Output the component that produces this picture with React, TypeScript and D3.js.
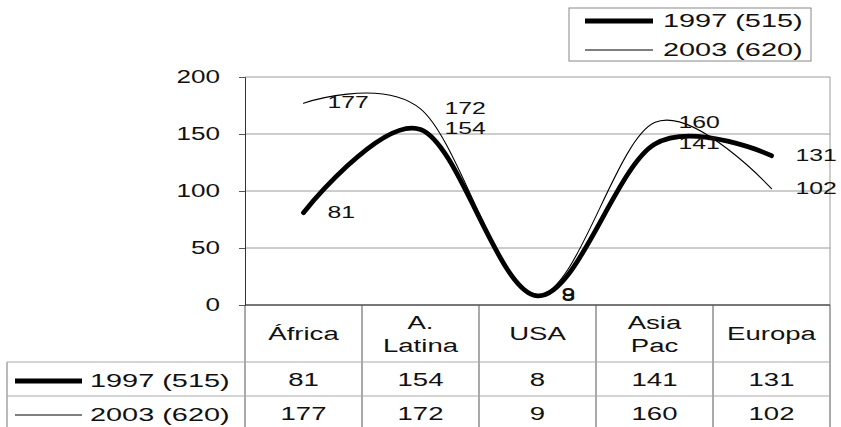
import * as d3 from 'd3';
import { useEffect, useRef } from 'react';

const categories = ['África', 'A. Latina', 'USA', 'Asia Pac', 'Europa'];
const seriesNames = ['1997 (515)', '2003 (620)'];
const values1997 = [81, 154, 8, 141, 131];
const values2003 = [177, 172, 9, 160, 102];
const yTicks = [0, 50, 100, 150, 200];

const FONT = '"Liberation Sans", Arial, sans-serif';
const STRETCH = 1.45;

export default function App() {
    const svgRef = useRef<SVGSVGElement>(null);

    useEffect(() => {
        if (!svgRef.current) return;
        const width = 841;
        const height = 427;
        const plot = { left: 245, right: 830, top: 77, bottom: 305 };

        const svg = d3.select(svgRef.current).attr('width', width).attr('height', height);
        svg.selectAll('*').remove();

        // text with the horizontal stretch seen in the picture
        const txt = (g: any, x: number, y: number, s: string, size: number, anchor = 'start', sx = STRETCH) =>
            g
                .append('text')
                .attr('transform', `translate(${x},${y}) scale(${sx},1)`)
                .attr('text-anchor', anchor)
                .attr('font-family', FONT)
                .attr('font-size', size)
                .attr('fill', '#111')
                .text(s);

        const x = d3.scaleBand<string>().domain(categories).range([plot.left, plot.right]);
        const cx = (c: string) => x(c)! + x.bandwidth() / 2;
        const y = d3.scaleLinear().domain([0, 200]).range([plot.bottom, plot.top]);

        // grid + frame
        const grid = svg.append('g');
        yTicks.forEach((t) => {
            grid.append('line').attr('x1', plot.left).attr('x2', plot.right).attr('y1', y(t)).attr('y2', y(t)).attr('stroke', '#9a9a9a').attr('stroke-width', 1);
        });
        grid.append('line').attr('x1', plot.right).attr('x2', plot.right).attr('y1', plot.top).attr('y2', plot.bottom).attr('stroke', '#9a9a9a');

        // y axis
        const yAxis = svg.append('g').attr('transform', `translate(${plot.left},0)`).call(d3.axisLeft(y).tickValues(yTicks).tickSize(6).tickFormat(() => ''));
        yAxis.select('.domain').attr('stroke', '#333');
        yAxis.selectAll('.tick line').attr('stroke', '#555');
        yTicks.forEach((t) => txt(svg, 220, y(t) + 6, String(t), 18, 'end'));

        // x axis line
        svg.append('line').attr('x1', plot.left).attr('x2', plot.right).attr('y1', plot.bottom).attr('y2', plot.bottom).attr('stroke', '#222');

        // data table
        const rowTop = [362, 396];
        const rowBottom = 430;
        const tbl = svg.append('g');
        const bounds = categories.map((c) => x(c)!).concat([plot.right]);
        bounds.forEach((b) => {
            tbl.append('line').attr('x1', b).attr('x2', b).attr('y1', plot.bottom).attr('y2', rowBottom).attr('stroke', '#555');
        });
        tbl.append('line').attr('x1', 7).attr('x2', 7).attr('y1', rowTop[0]).attr('y2', rowBottom).attr('stroke', '#777');
        rowTop.forEach((r) => {
            tbl.append('line').attr('x1', 7).attr('x2', plot.right).attr('y1', r).attr('y2', r).attr('stroke', '#aaa');
        });

        categories.forEach((c) => {
            const parts = c.split(' ');
            if (parts.length === 1) txt(tbl, cx(c), 340, c, 19, 'middle');
            else parts.forEach((p, i) => txt(tbl, cx(c), 329 + i * 23, p, 19, 'middle'));
        });

        const allSeries = [
            { name: seriesNames[0], values: values1997, width: 4.8 },
            { name: seriesNames[1], values: values2003, width: 1.1 },
        ];

        allSeries.forEach((s, si) => {
            const top = rowTop[si];
            const mid = top + 19;
            tbl.append('line').attr('x1', 15).attr('x2', 82).attr('y1', mid).attr('y2', mid).attr('stroke', '#000').attr('stroke-width', s.width);
            txt(tbl, 90, mid + 6, s.name, 19, 'start', 1.52);
            s.values.forEach((v, i) => txt(tbl, cx(categories[i]), top + 24, String(v), 19, 'middle'));
        });

        // lines
        const line = d3
            .line<number>()
            .x((_, i) => cx(categories[i]))
            .y((d) => y(d))
            .curve(d3.curveCardinal.tension(0));

        [allSeries[1], allSeries[0]].forEach((s) => {
            svg.append('path').attr('d', line(s.values)!).attr('fill', 'none').attr('stroke', '#000').attr('stroke-width', s.width).attr('stroke-linecap', 'round');
        });

        // point labels
        allSeries.forEach((s) => {
            s.values.forEach((v, i) => txt(svg, cx(categories[i]) + 24, y(v) + 5, String(v), 16, 'start', 1.55));
        });

        // legend
        const leg = svg.append('g');
        leg.append('rect').attr('x', 569).attr('y', 8).attr('width', 242).attr('height', 53).attr('fill', '#fff').attr('stroke', '#888');
        allSeries.forEach((s, i) => {
            const ly = 21 + i * 29;
            leg.append('line').attr('x1', 585).attr('x2', 653).attr('y1', ly).attr('y2', ly).attr('stroke', '#000').attr('stroke-width', s.width);
            txt(leg, 663, ly + 6, s.name, 19, 'start', 1.52);
        });
    }, []);

    return <svg ref={svgRef} style={{ position: 'absolute', left: 0, top: 0, background: '#fff' }} />;
}
